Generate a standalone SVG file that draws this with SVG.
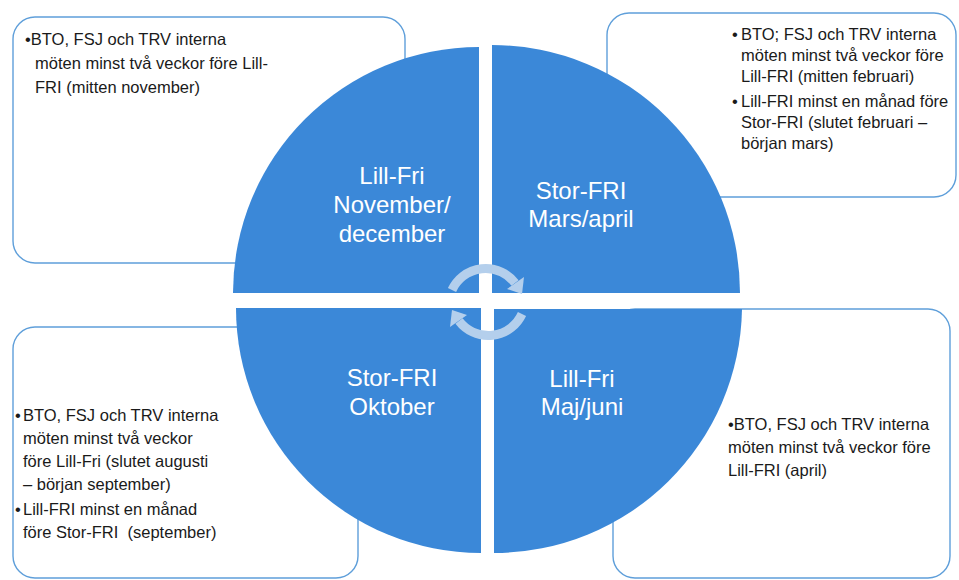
<svg xmlns="http://www.w3.org/2000/svg" width="959" height="580" viewBox="0 0 959 580">
<style>
.box{fill:#ffffff;stroke:#5f9fda;stroke-width:1.4}
.q{fill:#3b88d8}
.qt{font-family:"Liberation Sans",Arial,sans-serif;font-size:24px;fill:#ffffff;text-anchor:middle}
.bt{font-family:"Liberation Sans",Arial,sans-serif;font-size:16.5px;fill:#1a1a1a}
.arc{fill:none;stroke:#b4cfec;stroke-width:9}
.ah{fill:#b4cfec}
</style>
<rect width="959" height="580" fill="#ffffff"/>
<g id="box-nov">
<rect class="box" x="13" y="17" width="392" height="246" rx="22"/>
<text class="bt" x="25" y="45">•BTO, FSJ och TRV interna</text>
<text class="bt" x="35" y="69">möten minst två veckor före Lill-</text>
<text class="bt" x="35" y="93">FRI (mitten november)</text>
</g>
<g id="box-mars">
<rect class="box" x="607" y="13" width="349" height="184" rx="22"/>
<text class="bt" x="732" y="40">•</text>
<text class="bt" x="741" y="40">BTO; FSJ och TRV interna</text>
<text class="bt" x="741" y="61">möten minst två veckor före</text>
<text class="bt" x="741" y="82">Lill-FRI (mitten februari)</text>
<text class="bt" x="732" y="107">•</text>
<text class="bt" x="741" y="107">Lill-FRI minst en månad före</text>
<text class="bt" x="741" y="128">Stor-FRI (slutet februari –</text>
<text class="bt" x="741" y="149">början mars)</text>
</g>
<g id="box-okt">
<rect class="box" x="13" y="327" width="345" height="251" rx="22"/>
<text class="bt" x="15" y="421">•</text>
<text class="bt" x="23" y="421">BTO, FSJ och TRV interna</text>
<text class="bt" x="23" y="444">möten minst två veckor</text>
<text class="bt" x="23" y="467">före Lill-Fri (slutet augusti</text>
<text class="bt" x="23" y="490">– början september)</text>
<text class="bt" x="15" y="515">•</text>
<text class="bt" x="23" y="515">Lill-FRI minst en månad</text>
<text class="bt" x="23" y="538">före Stor-FRI&#160; (september)</text>
</g>
<g id="box-maj">
<rect class="box" x="613" y="309" width="337" height="269" rx="22"/>
<text class="bt" x="728" y="430">•BTO, FSJ och TRV interna</text>
<text class="bt" x="728" y="453">möten minst två veckor före</text>
<text class="bt" x="728" y="476">Lill-FRI (april)</text>
</g>
<g id="q-lillfri-nov">
<path class="q" d="M479 293 L233 293 A246 246 0 0 1 479 47 Z"/>
<text class="qt" x="392" y="184">Lill-Fri</text>
<text class="qt" x="392" y="213">November/</text>
<text class="qt" x="392" y="242">december</text>
</g>
<g id="q-storfri-mars">
<path class="q" d="M492 293 L492 45 A248 248 0 0 1 740 293 Z"/>
<text class="qt" x="581" y="199">Stor-FRI</text>
<text class="qt" x="581" y="227">Mars/april</text>
</g>
<g id="q-storfri-okt">
<path class="q" d="M481 308 L481 553 A245 245 0 0 1 236 308 Z"/>
<text class="qt" x="392" y="386">Stor-FRI</text>
<text class="qt" x="392" y="415">Oktober</text>
</g>
<g id="q-lillfri-maj">
<path class="q" d="M494 309 L742 309 A248 248 0 0 1 494 553 Z"/>
<text class="qt" x="582" y="387">Lill-Fri</text>
<text class="qt" x="582" y="415">Maj/juni</text>
</g>
<g id="connectors">
<g>
<path class="arc" d="M452 290 A37 37 0 0 1 515 283"/>
<polygon class="ah" points="524,277 507,289 522,294"/>
</g>
<g transform="rotate(180 487 302)">
<path class="arc" d="M452 290 A37 37 0 0 1 515 283"/>
<polygon class="ah" points="524,277 507,289 522,294"/>
</g>
</g>
</svg>
